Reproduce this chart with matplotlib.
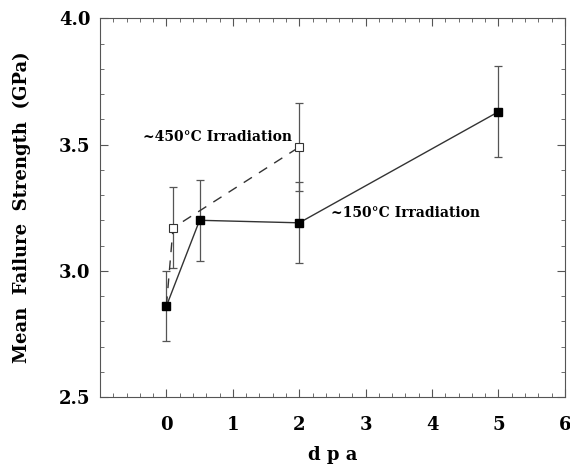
import matplotlib
matplotlib.use("Agg")
import matplotlib.pyplot as plt
from matplotlib.ticker import MultipleLocator

# ~150°C irradiation (filled)
x150 = [0.0, 0.5, 2.0, 5.0]
y150 = [2.86, 3.20, 3.19, 3.63]
e150 = [0.14, 0.16, 0.16, 0.18]

# ~450°C irradiation (open), starting from unirradiated point
x450 = [0.0, 0.1, 2.0]
y450 = [2.86, 3.17, 3.49]
e450 = [0.0, 0.16, 0.175]

fig = plt.figure(figsize=(5.7, 4.65), dpi=100)
ax = fig.add_axes([0.1754, 0.1462, 0.8156, 0.8144])

font = {"family": "DejaVu Serif", "weight": "bold"}

ax.errorbar(x450[1:], y450[1:], yerr=e450[1:], fmt="none", ecolor="#555555",
            elinewidth=0.9, capsize=3, capthick=0.9, zorder=2)
ax.plot(x450, y450, color="#333333", lw=1.0, dashes=(7, 6), zorder=3)
ax.plot(x450[1:], y450[1:], linestyle="none", marker="s", markersize=5.2,
        markerfacecolor="white", markeredgecolor="#333333", markeredgewidth=0.8, zorder=4)

ax.errorbar(x150, y150, yerr=e150, fmt="none", ecolor="#555555",
            elinewidth=0.9, capsize=3, capthick=0.9, zorder=2)
ax.plot(x150, y150, color="#333333", lw=1.0, marker="s", markersize=5.5,
        markerfacecolor="black", markeredgecolor="black", zorder=5)

ax.text(-0.35, 3.53, "~450°C Irradiation", fontsize=10, va="center", ha="left", **font)
ax.text(2.48, 3.229, "~150°C Irradiation", fontsize=10, va="center", ha="left", **font)

ax.set_xlim(-1, 6)
ax.set_ylim(2.5, 4.0)
ax.set_xticks([0, 1, 2, 3, 4, 5, 6])
ax.set_yticks([2.5, 3.0, 3.5, 4.0])
ax.set_yticklabels(["2.5", "3.0", "3.5", "4.0"])
ax.xaxis.set_minor_locator(MultipleLocator(0.2))
ax.yaxis.set_minor_locator(MultipleLocator(0.1))
ax.tick_params(which="both", direction="in", top=True, right=True, color="#555555")
ax.tick_params(which="major", length=6, width=0.8, labelsize=13)
ax.tick_params(axis="x", which="major", pad=14)
ax.tick_params(axis="y", which="major", pad=7)
ax.tick_params(which="minor", length=3, width=0.6)
for lab in ax.get_xticklabels() + ax.get_yticklabels():
    lab.set_fontfamily("DejaVu Serif")
    lab.set_fontweight("bold")
for s in ax.spines.values():
    s.set_color("#555555")
    s.set_linewidth(0.8)

ax.set_xlabel("d p a", fontsize=13, va="center", **font)
ax.xaxis.set_label_coords(0.5, -0.153)
ax.set_ylabel("Mean  Failure  Strength  (GPa)", fontsize=13, labelpad=20, **font)

fig.savefig("out.png", dpi=100)
